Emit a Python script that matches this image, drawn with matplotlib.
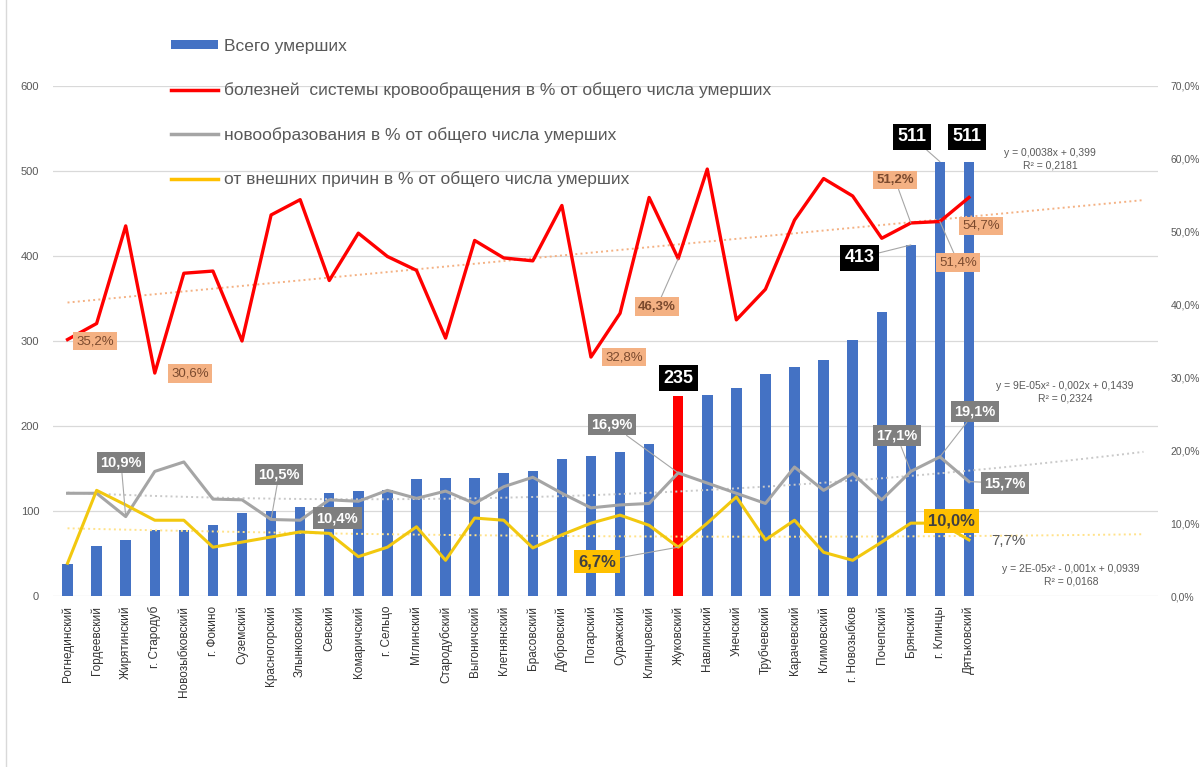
import numpy as np
import matplotlib.pyplot as plt
from matplotlib.patches import Patch
from matplotlib.lines import Line2D
from matplotlib.ticker import FuncFormatter, MultipleLocator

plt.rcParams['font.family'] = ['Liberation Sans', 'DejaVu Sans']

districts = [
    "Рогнединский", "Гордеевский", "Жирятинский", "г. Стародуб", "Новозыбковский",
    "г. Фокино", "Суземский", "Красногорский", "Злынковский", "Севский",
    "Комаричский", "г. Сельцо", "Мглинский", "Стародубский", "Выгоничский",
    "Клетнянский", "Брасовский", "Дубровский", "Погарский", "Суражский",
    "Клинцовский", "Жуковский", "Навлинский", "Унечский", "Трубчевский",
    "Карачевский", "Климовский", "г. Новозыбков", "Почепский", "Брянский",
    "г. Клинцы", "Дятьковский",
]
total_deaths = [38, 59, 66, 78, 78, 83, 98, 100, 105, 121, 123, 125, 138, 139, 139, 145,
                147, 161, 165, 169, 179, 235, 237, 245, 261, 269, 278, 301, 334, 413, 511, 511]
circulatory_pct = [35.2, 37.4, 50.8, 30.6, 44.3, 44.6, 35.0, 52.3, 54.4, 43.3, 49.8, 46.6,
                   44.7, 35.4, 48.8, 46.4, 46.0, 53.6, 32.8, 38.8, 54.7, 46.3, 58.6, 37.9,
                   42.1, 51.6, 57.3, 54.9, 49.1, 51.2, 51.4, 54.7]
neoplasm_pct = [14.1, 14.1, 10.9, 17.1, 18.4, 13.3, 13.2, 10.5, 10.4, 13.2, 13.0, 14.5,
                13.4, 14.4, 12.7, 15.0, 16.3, 14.1, 12.1, 12.5, 12.7, 16.9, 15.5, 14.1,
                12.7, 17.7, 14.5, 16.8, 13.2, 17.1, 19.1, 15.7]
external_pct = [4.5, 14.5, 12.5, 10.4, 10.4, 6.7, 7.4, 8.1, 8.8, 8.6, 5.4, 6.7,
                9.5, 4.9, 10.7, 10.4, 6.6, 8.4, 10.0, 11.1, 9.7, 6.7, 10.0, 13.6,
                7.7, 10.4, 6.0, 4.9, 7.4, 10.0, 10.0, 7.7]
highlight = "Жуковский"

# trendline coefficients as printed on the chart (Excel x = 1, 2, ...)
trend_circ = [0.0038, 0.399]
trend_neo = [9e-05, -0.002, 0.1439]
trend_ext = [2e-05, -0.001, 0.0939]
forecast = 6
eq_circ = "y = 0,0038x + 0,399\nR² = 0,2181"
eq_neo = "y = 9E-05x² - 0,002x + 0,1439\nR² = 0,2324"
eq_ext = "y = 2E-05x² - 0,001x + 0,0939\nR² = 0,0168"

legend_labels = [
    "Всего умерших",
    "болезней  системы кровообращения в % от общего числа умерших",
    "новообразования в % от общего числа умерших",
    "от внешних причин в % от общего числа умерших",
]

BLUE = '#4472C4'
RED = '#FF0000'
GREY = '#A5A5A5'
YELLOW = '#F2C80F'

fig = plt.figure(figsize=(12.03, 7.67), dpi=100)
ax = fig.add_axes([53 / 1203, 1 - 596 / 767, (1158 - 53) / 1203, (596 - 86) / 767])
ax2 = ax.twinx()

n = len(districts)
x = np.arange(n)
bar_colors = [RED if d == highlight else BLUE for d in districts]
ax.bar(x, total_deaths, width=0.36, color=bar_colors, zorder=2)

ax.set_xlim(-0.5, n + forecast - 0.5)
ax.set_ylim(0, 600)
ax.yaxis.set_major_locator(MultipleLocator(100))
ax.grid(axis='y', color='#D9D9D9', lw=0.9)
ax.set_axisbelow(True)
ax.set_xticks(x)
ax.set_xticklabels(districts, rotation=90, fontsize=8.5, color='#333333')
ax.tick_params(axis='both', length=0)
ax.tick_params(axis='y', labelsize=8, labelcolor='#595959', pad=10)
ax.tick_params(axis='x', pad=7)

ax2.set_ylim(0, 0.7)
ax2.yaxis.set_major_locator(MultipleLocator(0.1))
ax2.yaxis.set_major_formatter(FuncFormatter(lambda v, p: f"{v * 100:.1f}%".replace('.', ',')))
ax2.tick_params(axis='y', length=0, labelsize=7.5, labelcolor='#595959', pad=9)
for a in (ax, ax2):
    for s in a.spines.values():
        s.set_visible(False)

# trendlines
xt = np.arange(n + forecast)
ax2.plot(xt, np.polyval(trend_circ, xt + 1), ls=':', color='#F4B183', lw=1.4, zorder=1)
ax2.plot(xt, np.polyval(trend_neo, xt + 1), ls=':', color='#C9C9C9', lw=1.4, zorder=1)
ax2.plot(xt, np.polyval(trend_ext, xt + 1), ls=':', color='#FFE28A', lw=1.4, zorder=1)

ax2.plot(x, np.array(circulatory_pct) / 100, color=RED, lw=2.4, zorder=3)
ax2.plot(x, np.array(neoplasm_pct) / 100, color=GREY, lw=2.2, zorder=3)
ax2.plot(x, np.array(external_pct) / 100, color=YELLOW, lw=2.2, zorder=3)

eq_style = dict(ha='center', va='center', fontsize=7.5, color='#595959', linespacing=1.3)
ax2.text(33.8, 0.600, eq_circ, **eq_style)
ax2.text(34.3, 0.280, eq_neo, **eq_style)
ax2.text(34.5, 0.029, eq_ext, **eq_style)


def box_label(axis, text, xy, xytext, fc, tc, fs, weight='bold', leader=True, trans=None):
    coords = trans if trans is not None else 'data'
    bbox = dict(boxstyle='square,pad=0.25', fc=fc, ec='none') if fc else None
    arrow = dict(arrowstyle='-', color='#A6A6A6', lw=0.8, shrinkA=0, shrinkB=0) if leader else None
    axis.annotate(text, xy=xy, xytext=xytext, xycoords=coords, textcoords=coords,
                  ha='center', va='center', fontsize=fs, color=tc, fontweight=weight,
                  bbox=bbox, arrowprops=arrow, zorder=6)


# total deaths labels (left axis units)
count_labels = [(21, 21.0, 256, False), (29, 27.25, 398, True), (30, 29.04, 540, True), (31, 30.93, 540, False)]
for i, tx, ty, lead in count_labels:
    box_label(ax2, str(total_deaths[i]), (i, total_deaths[i]), (tx, ty), 'black', 'white', 13,
              leader=lead, trans=ax.transData)

# circulatory labels
circ_labels = [(0, 0.95, 0.350, False, 'normal'), (3, 4.21, 0.305, False, 'normal'),
               (18, 19.14, 0.328, False, 'normal'), (21, 20.27, 0.397, True, 'bold'),
               (29, 28.46, 0.571, True, 'bold'), (30, 30.62, 0.458, True, 'normal'),
               (31, 31.41, 0.508, False, 'normal')]
for i, tx, ty, lead, w in circ_labels:
    txt = f"{circulatory_pct[i]:.1f}%".replace('.', ',')
    box_label(ax2, txt, (i, circulatory_pct[i] / 100), (tx, ty), '#F4B183', '#7B4A2E', 9.5,
              weight=w, leader=lead)

# neoplasm labels
neo_labels = [(2, 1.84, 0.183, True), (7, 7.27, 0.167, True), (8, 9.27, 0.107, False),
              (21, 18.72, 0.235, True), (29, 28.52, 0.220, True), (30, 31.21, 0.253, True),
              (31, 32.24, 0.155, True)]
for i, tx, ty, lead in neo_labels:
    txt = f"{neoplasm_pct[i]:.1f}%".replace('.', ',')
    box_label(ax2, txt, (i, neoplasm_pct[i] / 100), (tx, ty), '#7F7F7F', 'white', 10.5, leader=lead)

# external causes labels
box_label(ax2, f"{external_pct[21]:.1f}%".replace('.', ','), (21, external_pct[21] / 100),
          (18.21, 0.047), '#FFC000', '#404040', 12)
box_label(ax2, f"{external_pct[30]:.1f}%".replace('.', ','), (30, external_pct[30] / 100),
          (30.41, 0.103), '#FFC000', '#404040', 12, leader=False)
box_label(ax2, f"{external_pct[31]:.1f}%".replace('.', ','), (31, external_pct[31] / 100),
          (32.34, 0.075), None, '#595959', 11, weight='normal', leader=False)

handles = [
    Patch(fc=BLUE, ec='none'),
    Line2D([], [], color=RED, lw=2.5),
    Line2D([], [], color=GREY, lw=2.5),
    Line2D([], [], color='#FFC000', lw=2.5),
]
fig.legend(handles, legend_labels, loc='upper left', bbox_to_anchor=(162 / 1203, 1 - 30 / 767),
           frameon=False, fontsize=12.5, labelcolor='#595959', labelspacing=1.65,
           handlelength=2.7, handleheight=0.5, handletextpad=0.35, borderpad=0)

fig.add_artist(Line2D([6 / 1203, 6 / 1203], [0, 1], transform=fig.transFigure, color='#D9D9D9', lw=1))

fig.savefig('out.png', dpi=100, facecolor='white')
